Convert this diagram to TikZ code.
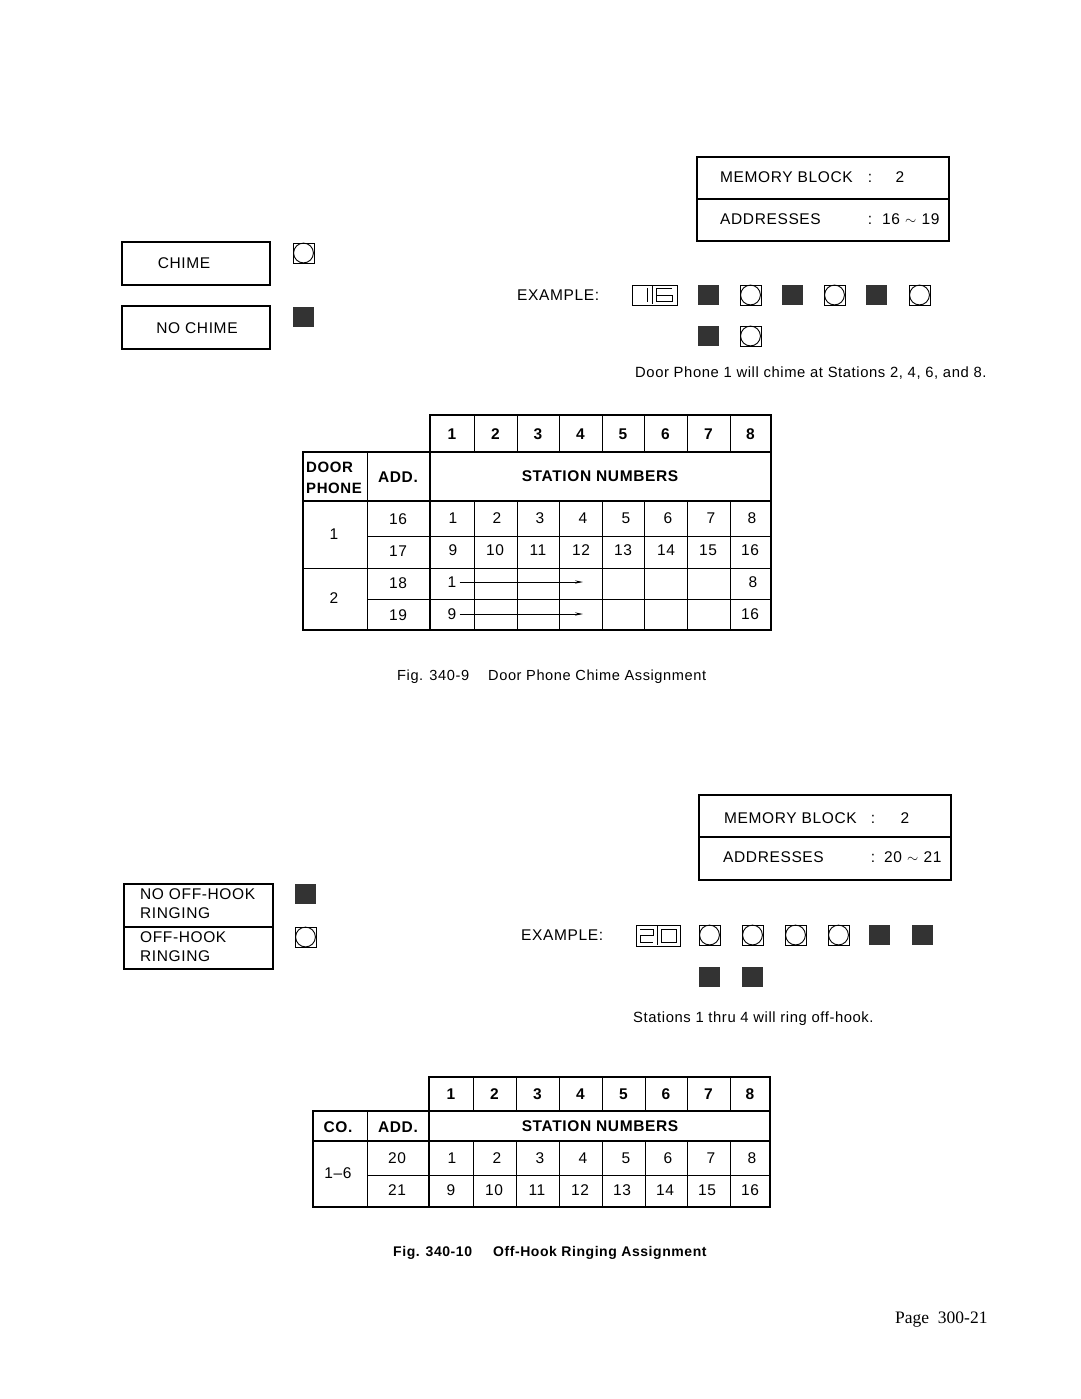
\documentclass[tikz,border=0pt]{standalone}
\usepackage{fontspec}
\setmainfont{Liberation Sans}[LetterSpace=4]
\newfontfamily\pagefont{Liberation Serif}
\usetikzlibrary{arrows.meta}
\begin{document}
\begin{tikzpicture}[x=1pt,y=-1pt,
  txt/.style={inner sep=0pt, text height=11pt, text depth=0pt, font=\fontsize{15.5}{18}\selectfont},
  small/.style={inner sep=0pt, text height=10.5pt, text depth=0pt, font=\fontsize{14.8}{17}\selectfont},
  hdr/.style={inner sep=0pt, text height=11pt, text depth=0pt, font=\fontsize{15.5}{18}\selectfont\bfseries},
  figcap/.style={inner sep=0pt, text height=10pt, text depth=0pt, font=\fontsize{14.6}{17}\selectfont},
  figcapb/.style={inner sep=0pt, text height=10pt, text depth=0pt, font=\fontsize{14}{17}\selectfont\bfseries},
  frame/.style={line width=1.1pt},
  grid/.style={line width=0.9pt},
  seg/.style={line width=1pt},
  lampoff/.pic={\draw[line width=0.9pt] (0,0) rectangle (21,20);
                \draw[line width=0.9pt] (10.5,10) circle (9.9);},
  lampon/.pic={\fill[black!80] (0,0) rectangle (21,20);},
]
\useasboundingbox (0,0) rectangle (1080,1399);
\fill[white] (0,0) rectangle (1080,1399);

% ================= TOP SECTION =================
\draw[frame] (697,157) rectangle (949,241);
\draw[frame] (697,199) -- (949,199);
\node[txt, anchor=west] (mbA) at (720,177) {MEMORY BLOCK};
\node[txt] (mbAc) at (870,177) {:};
\node[txt] (mbAv) at (900,177) {2};
\node[txt, anchor=west] (adA) at (720,219) {ADDRESSES};
\node[txt] (adAc) at (870,219) {:};
\node[txt, anchor=west] (adAv) at (882,219) {16\,\,$\sim$\,\,19};

\draw[frame] (122,242) rectangle (270,285);
\node[txt] (chime) at (184,263) {CHIME};
\draw[frame] (122,306) rectangle (270,349);
\node[txt] (nochime) at (197,328) {NO CHIME};
\pic (lc1) at (293,243) {lampoff};
\pic (lc2) at (293,307) {lampon};

\node[txt, anchor=west] (exA) at (517,295) {EXAMPLE:};
\draw[grid] (632,285) rectangle (677,305);
\draw[seg] (647,288) -- (647,302);
\draw[seg] (652,286) -- (652,304);
\draw[seg] (672,288.5) -- (656,288.5) -- (656,301.5) -- (672,301.5) -- (672,295) -- (656,295);
\foreach \xx/\kind in {698/lampon,740/lampoff,782/lampon,824/lampoff,866/lampon,909/lampoff}
  \pic at (\xx,285) {\kind};
\pic at (698,326) {lampon};
\pic at (740,326) {lampoff};
\node[small, anchor=west] (noteA) at (635,372) {Door Phone 1 will chime at Stations 2, 4, 6, and 8.};

% table 1
\draw[frame] (430,415) rectangle (771,452);
\foreach \xx in {474,517,559,602,644,687,730} \draw[grid] (\xx,415) -- (\xx,452);
\draw[frame] (303,452) rectangle (771,630);
\draw[grid] (367,452) -- (367,630);
\draw[frame] (430,452) -- (430,630);
\draw[frame] (303,501) -- (771,501);
\draw[grid] (303,568) -- (771,568);
\draw[grid] (367,536) -- (771,536);
\draw[grid] (367,599) -- (771,599);
\foreach \xx in {474,517,559,602,644,687,730} \draw[grid] (\xx,501) -- (\xx,630);
\foreach \n/\xx in {1/452,2/495.5,3/538,4/580.5,5/623,6/665.5,7/708.5,8/750.5}
  \node[hdr] (hA\n) at (\xx,434) {\n};
\node[inner sep=0pt, anchor=west, align=left, font=\fontsize{15}{20.5}\selectfont\bfseries] (dp) at (306,478) {DOOR\\PHONE};
\node[hdr] (addA) at (398,477) {ADD.};
\node[hdr] (snA) at (600,476) {STATION NUMBERS};
\node[txt] (dp1) at (334,534) {1};
\node[txt] (dp2) at (334,598) {2};
\foreach \v/\yy in {16/519,17/551,18/583,19/615}
  \node[txt] (aA\v) at (398,\yy) {\v};
\foreach \n/\xx in {1/453,2/497,3/540,4/583,5/626,6/668,7/711,8/752}
  \node[txt] (rA\n) at (\xx,518) {\n};
\foreach \n/\xx in {9/453,10/495,11/538,12/581,13/623,14/666,15/708,16/750}
  \node[txt] (rB\n) at (\xx,550) {\n};
\node[txt] (rC1) at (452,582) {1};
\node[txt] (rC8) at (753,582) {8};
\node[txt] (rD9) at (452,614) {9};
\node[txt] (rD16) at (750,614) {16};
\coordinate (tipC) at (583,582);
\coordinate (tipD) at (583,614);
\draw[line width=0.8pt, -{Stealth[length=8pt,width=3.2pt]}] (rC1.east) ++(3,0) -- (tipC);
\draw[line width=0.8pt, -{Stealth[length=8pt,width=3.2pt]}] (rD9.east) ++(3,0) -- (tipD);

\node[figcap, anchor=west] (figA) at (397,675) {Fig. 340-9};
\node[figcap, anchor=west] (figAt) at (488,675) {Door Phone Chime Assignment};

% ================= BOTTOM SECTION =================
\draw[frame] (699,795) rectangle (951,880);
\draw[frame] (699,837) -- (951,837);
\node[txt, anchor=west] (mbB) at (724,818) {MEMORY BLOCK};
\node[txt] (mbBc) at (873,818) {:};
\node[txt] (mbBv) at (905,818) {2};
\node[txt, anchor=west] (adB) at (723,857) {ADDRESSES};
\node[txt] (adBc) at (873,857) {:};
\node[txt, anchor=west] (adBv) at (884,857) {20\,\,$\sim$\,\,21};

\draw[frame] (124,884) rectangle (273,969);
\draw[frame] (124,927) -- (273,927);
\node[inner sep=0pt, anchor=west, align=left, font=\fontsize{15.5}{19}\selectfont] (nofh) at (140,904) {NO OFF-HOOK\\RINGING};
\node[inner sep=0pt, anchor=west, align=left, font=\fontsize{15.5}{19}\selectfont] (ofh) at (140,947) {OFF-HOOK\\RINGING};
\pic (lo1) at (295,884) {lampon};
\pic (lo2) at (295,927) {lampoff};

\node[txt, anchor=west] (exB) at (521,935) {EXAMPLE:};
\draw[grid] (636,925) rectangle (680,946);
\draw[seg] (640,929) -- (653,929) -- (653,935.5) -- (640,935.5) -- (640,942) -- (653,942);
\draw[seg] (657,926) -- (657,945);
\draw[seg] (661,929) rectangle (676,942);
\foreach \xx/\kind in {699/lampoff,742/lampoff,785/lampoff,828/lampoff,869/lampon,912/lampon}
  \pic at (\xx,925) {\kind};
\pic at (699,967) {lampon};
\pic at (742,967) {lampon};
\node[small, anchor=west] (noteB) at (633,1017) {Stations 1 thru 4 will ring off-hook.};

% table 2
\draw[frame] (429,1077) rectangle (770,1111);
\foreach \xx in {473,516,559,602,645,687,730} \draw[grid] (\xx,1077) -- (\xx,1111);
\draw[frame] (313,1111) rectangle (770,1207);
\draw[grid] (367,1111) -- (367,1207);
\draw[frame] (429,1111) -- (429,1207);
\draw[frame] (313,1141) -- (770,1141);
\draw[grid] (367,1175) -- (770,1175);
\foreach \xx in {473,516,559,602,645,687,730} \draw[grid] (\xx,1141) -- (\xx,1207);
\foreach \n/\xx in {1/451,2/494.5,3/537.5,4/580.5,5/623.5,6/666,7/708.5,8/750}
  \node[hdr] (hB\n) at (\xx,1094) {\n};
\node[hdr] (co) at (338,1127) {CO.};
\node[hdr] (addB) at (398,1127) {ADD.};
\node[hdr] (snB) at (600,1126) {STATION NUMBERS};
\node[txt] (co16) at (338,1173) {1--6};
\node[txt] (aB20) at (397,1158) {20};
\node[txt] (aB21) at (397,1190) {21};
\foreach \n/\xx in {1/452,2/497,3/540,4/583,5/626,6/668,7/711,8/752}
  \node[txt] (sA\n) at (\xx,1158) {\n};
\foreach \n/\xx in {9/451,10/494,11/537,12/580,13/622,14/665,15/707,16/750}
  \node[txt] (sB\n) at (\xx,1190) {\n};

\node[figcapb, anchor=west] (figB) at (393,1251) {Fig. 340-10};
\node[figcapb, anchor=west] (figBt) at (493,1251) {Off-Hook Ringing Assignment};

\node[inner sep=0pt, anchor=west, font=\pagefont\fontsize{17.5}{20}\selectfont] (page) at (895,1320) {Page\ \ 300-21};
\end{tikzpicture}
\end{document}
